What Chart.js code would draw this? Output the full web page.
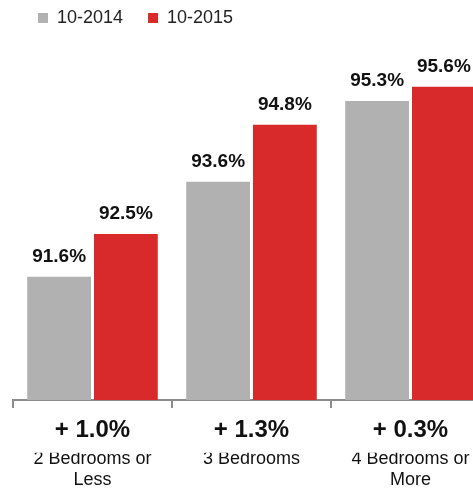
<!DOCTYPE html>
<html>
<head>
<meta charset="utf-8">
<script src="https://cdn.jsdelivr.net/npm/chart.js@4"></script>
<style>
  html, body { margin: 0; padding: 0; background: #fff; overflow: hidden; }
  #wrap { width: 490px; height: 488px; }
</style>
</head>
<body>
<div id="wrap"><canvas id="myChart"></canvas></div>
<script>
// data
var categories = [["2 Bedrooms or", "Less"], "3 Bedrooms", ["4 Bedrooms or", "More"]];
var changeLabels = ["+ 1.0%", "+ 1.3%", "+ 0.3%"];
var seriesNames = ["10-2014", "10-2015"];
var values2014 = [91.6, 93.6, 95.3];
var values2015 = [92.5, 94.8, 95.6];

Chart.defaults.font.family = "'Liberation Sans', Arial, sans-serif";
Chart.defaults.color = "#111";

// value labels above the bars
var barLabels = {
    id: 'barLabels',
    afterDatasetsDraw: function(chart) {
        var ctx = chart.ctx;
        ctx.save();
        ctx.font = "bold 19px 'Liberation Sans', Arial, sans-serif";
        ctx.fillStyle = "#111";
        ctx.textAlign = "center";
        ctx.textBaseline = "alphabetic";
        chart.data.datasets.forEach(function(ds, i) {
            chart.getDatasetMeta(i).data.forEach(function(bar, j) {
                ctx.fillText(ds.data[j].toFixed(1) + "%", bar.x, bar.y - 15);
            });
        });
        ctx.restore();
    }
};

var ctx = document.getElementById('myChart').getContext('2d');
var chart = new Chart(ctx, {
    type: 'bar',
    data: {
        labels: categories,
        datasets: [{
            label: seriesNames[0],
            backgroundColor: '#b1b1b1',
            data: values2014
        }, {
            label: seriesNames[1],
            backgroundColor: '#d8292b',
            data: values2015
        }]
    },
    options: {
        responsive: true,
        maintainAspectRatio: false,
        animation: false,
        categoryPercentage: 0.84,
        barPercentage: 0.955,
        layout: { padding: { top: -16, left: 13, right: 0, bottom: 2 } },
        plugins: {
            tooltip: { enabled: false },
            legend: {
                position: 'top',
                align: 'start',
                labels: {
                    boxWidth: 10,
                    boxHeight: 10,
                    padding: 25,
                    color: '#222',
                    font: { size: 18 }
                }
            }
        },
        scales: {
            y: {
                display: false,
                min: 89,
                max: 96.65
            },
            x: {
                labels: changeLabels,
                grid: {
                    offset: true,
                    drawOnChartArea: false,
                    tickLength: 8,
                    color: '#8c8c8c',
                    lineWidth: 2
                },
                border: { color: '#8c8c8c', width: 2 },
                ticks: {
                    padding: 8,
                    color: '#111',
                    font: { size: 24, weight: 'bold' }
                }
            },
            x2: {
                type: 'category',
                position: 'bottom',
                weight: 1,
                labels: categories,
                offset: true,
                grid: { display: false, drawTicks: false, tickLength: 0 },
                border: { display: false },
                ticks: {
                    padding: -5,
                    color: '#111',
                    font: { size: 18 }
                }
            }
        }
    },
    plugins: [barLabels]
});
</script>
</body>
</html>
